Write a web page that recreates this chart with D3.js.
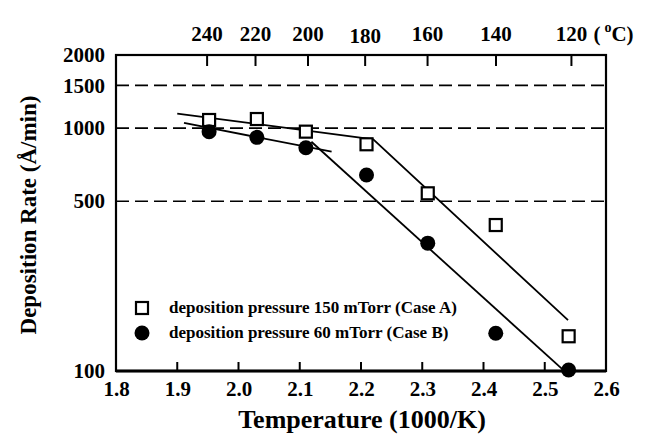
<!DOCTYPE html>
<meta charset="utf-8">
<style>
body { margin: 0; background: #fff; }
text { font-family: "Liberation Serif", "Times New Roman", serif; font-weight: bold; fill: #000; }
</style>
<svg width="646" height="443"></svg>
<script src="https://d3js.org/d3.v7.min.js"></script>
<script>
// measured points, x in 1000/K, y in A/min
const invT = [1.952, 2.030, 2.110, 2.209, 2.309, 2.420, 2.539];
const caseA = [1080, 1090, 967, 858, 539, 399, 139];
const caseB = [967, 916, 830, 641, 336, 143, 101];

// fitted lines (endpoints)
const fitA = [[1.900, 1148], [2.220, 899], [2.538, 162]];
const fitB1 = [[1.911, 1050], [2.152, 800]];
const fitB2 = [[2.119, 879], [2.530, 101]];

const xTicks = [1.8, 1.9, 2.0, 2.1, 2.2, 2.3, 2.4, 2.5, 2.6];
const yTicks = [100, 500, 1000, 1500, 2000];
const gridVals = [500, 1000, 1500];
const celsius = [240, 220, 200, 180, 160, 140, 120];
const legendLabels = ["deposition pressure 150 mTorr (Case A)", "deposition pressure 60 mTorr (Case B)"];

const svg = d3.select("svg");
const plotL = 116, plotR = 606, plotT = 55, plotB = 371;

const x = d3.scaleLinear().domain([1.8, 2.6]).range([plotL, plotR]);
const y = d3.scaleLog().domain([100, 2000]).range([plotB, plotT]);

// dashed grid lines
svg.append("g").selectAll("line")
  .data(gridVals)
  .enter().append("line")
  .attr("x1", plotL).attr("x2", plotR)
  .attr("y1", d => y(d)).attr("y2", d => y(d))
  .attr("stroke", "#000").attr("stroke-width", 1.6)
  .attr("stroke-dasharray", "13,6");

// bottom axis, ticks pointing inward
const xAxis = d3.axisBottom(x).tickValues(xTicks).tickFormat(d3.format(".1f"))
  .tickSizeInner(0).tickSizeOuter(0).tickPadding(9);
const gx = svg.append("g").attr("transform", `translate(0,${plotB})`).call(xAxis);
gx.select(".domain").remove();
gx.selectAll("text").style("font-size", "21px").attr("dy", null).attr("y", 25);
svg.append("g").selectAll("line")
  .data(xTicks.slice(1, -1))
  .enter().append("line")
  .attr("x1", d => x(d)).attr("x2", d => x(d))
  .attr("y1", plotB).attr("y2", plotB - 9)
  .attr("stroke", "#000").attr("stroke-width", 2);

// left axis labels
const yAxis = d3.axisLeft(y).tickValues(yTicks).tickFormat(d3.format("d"))
  .tickSizeInner(0).tickSizeOuter(0).tickPadding(11);
const gy = svg.append("g").attr("transform", `translate(${plotL},0)`).call(yAxis);
gy.select(".domain").remove();
gy.selectAll("text").style("font-size", "21px");

// top Celsius axis
const toInv = c => 1000 / (c + 273.15);
svg.append("g").selectAll("line")
  .data(celsius)
  .enter().append("line")
  .attr("x1", d => x(toInv(d))).attr("x2", d => x(toInv(d)))
  .attr("y1", plotT).attr("y2", plotT + 11)
  .attr("stroke", "#000").attr("stroke-width", 2);
svg.append("g").selectAll("text")
  .data(celsius)
  .enter().append("text")
  .attr("x", d => x(toInv(d)))
  .attr("y", d => d === 180 ? 43 : 41)
  .attr("text-anchor", "middle")
  .style("font-size", "21px")
  .text(d => d);
const unit = svg.append("text").attr("x", x(toInv(120)) + 22).attr("y", 41).style("font-size", "21px");
unit.append("tspan").text("(");
unit.append("tspan").attr("dx", 4).attr("dy", -9).style("font-size", "14px").text("o");
unit.append("tspan").attr("dy", 9).text("C)");

// frame
svg.append("rect")
  .attr("x", plotL).attr("y", plotT)
  .attr("width", plotR - plotL).attr("height", plotB - plotT)
  .attr("fill", "none").attr("stroke", "#000").attr("stroke-width", 2.2);
svg.append("line")
  .attr("x1", plotL).attr("x2", plotR).attr("y1", plotB).attr("y2", plotB)
  .attr("stroke", "#000").attr("stroke-width", 3);

// fitted lines
const line = d3.line().x(d => x(d[0])).y(d => y(d[1]));
svg.append("g").selectAll("path")
  .data([fitA, fitB1, fitB2])
  .enter().append("path")
  .attr("d", line)
  .attr("fill", "none").attr("stroke", "#000").attr("stroke-width", 1.8);

// data points
const sq = 12;
svg.append("g").selectAll("rect")
  .data(invT.map((v, i) => [v, caseA[i]]))
  .enter().append("rect")
  .attr("x", d => x(d[0]) - sq / 2).attr("y", d => y(d[1]) - sq / 2)
  .attr("width", sq).attr("height", sq)
  .attr("fill", "#fff").attr("stroke", "#000").attr("stroke-width", 2.2);
svg.append("g").selectAll("circle")
  .data(invT.map((v, i) => [v, caseB[i]]))
  .enter().append("circle")
  .attr("cx", d => x(d[0])).attr("cy", d => y(d[1]))
  .attr("r", 7.5).attr("fill", "#000");

// legend
const lg = svg.append("g");
lg.append("rect").attr("x", 136).attr("y", 302).attr("width", 12).attr("height", 12)
  .attr("fill", "#fff").attr("stroke", "#000").attr("stroke-width", 2.2);
lg.append("circle").attr("cx", 142).attr("cy", 333).attr("r", 7.5).attr("fill", "#000");
lg.selectAll("text")
  .data(legendLabels)
  .enter().append("text")
  .attr("x", 169).attr("y", (d, i) => 313 + i * 25)
  .style("font-size", "17px")
  .text(d => d);

// axis titles
svg.append("text")
  .attr("x", 362).attr("y", 428)
  .attr("text-anchor", "middle")
  .style("font-size", "26px")
  .text("Temperature (1000/K)");
svg.append("text")
  .attr("transform", "translate(36,215) rotate(-90)")
  .attr("text-anchor", "middle")
  .style("font-size", "23px")
  .text("Deposition Rate (Å/min)");
</script>
